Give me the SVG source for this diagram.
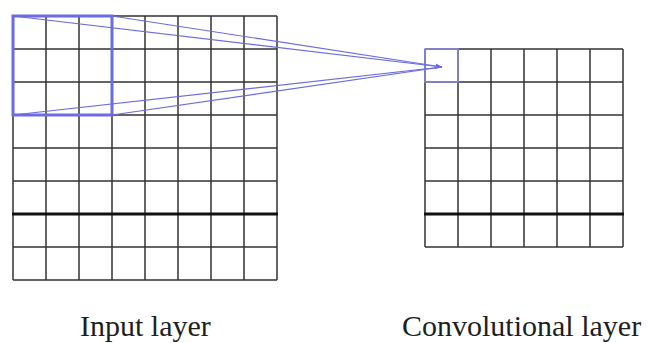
<svg xmlns="http://www.w3.org/2000/svg" width="648" height="343" viewBox="0 0 648 343">
<style>
.g{stroke:#333;stroke-width:1.5;fill:none}
.thick{stroke:#111;stroke-width:3}
.lbl{font-family:"Liberation Serif",serif;font-size:30px;fill:#1e1e1e}
.conn{stroke:#6b6be6;stroke-width:1.2;fill:none}
</style>
<defs>
<marker id="ah" viewBox="0 0 10 10" refX="9" refY="5" markerWidth="6" markerHeight="6" orient="auto"><path d="M0,1 L10,5 L0,9 z" fill="#6b6be6"/></marker>
</defs>
<rect width="648" height="343" fill="#fff"/>
<g id="input-layer">
<path class="g" d="M13,16V280M46,16V280M79,16V280M112,16V280M145,16V280M178,16V280M211,16V280M244,16V280M277,16V280M13,16H277M13,49H277M13,82H277M13,115H277M13,148H277M13,181H277M13,247H277M13,280H277"/>
<path class="thick" d="M12,214H278"/>
<rect x="13" y="16" width="99" height="99" fill="none" stroke="#6b6be6" stroke-width="3"/>
<text class="lbl" x="80" y="336">Input layer</text>
</g>
<g id="conv-layer">
<path class="g" d="M425,49V247M458,49V247M491,49V247M524,49V247M557,49V247M590,49V247M623,49V247M425,49H623M425,82H623M425,115H623M425,148H623M425,181H623M425,247H623"/>
<path class="thick" d="M424,214H624"/>
<rect x="425" y="49" width="33" height="33" fill="none" stroke="#8a8aea" stroke-width="1.5"/>
<text class="lbl" x="402" y="336">Convolutional layer</text>
</g>
<g id="connectors">
<path class="conn" d="M13,16L442,67" marker-end="url(#ah)"/>
<path class="conn" d="M112,16L442,67"/>
<path class="conn" d="M13,115L442,67"/>
<path class="conn" d="M112,115L442,67"/>
</g>
</svg>
